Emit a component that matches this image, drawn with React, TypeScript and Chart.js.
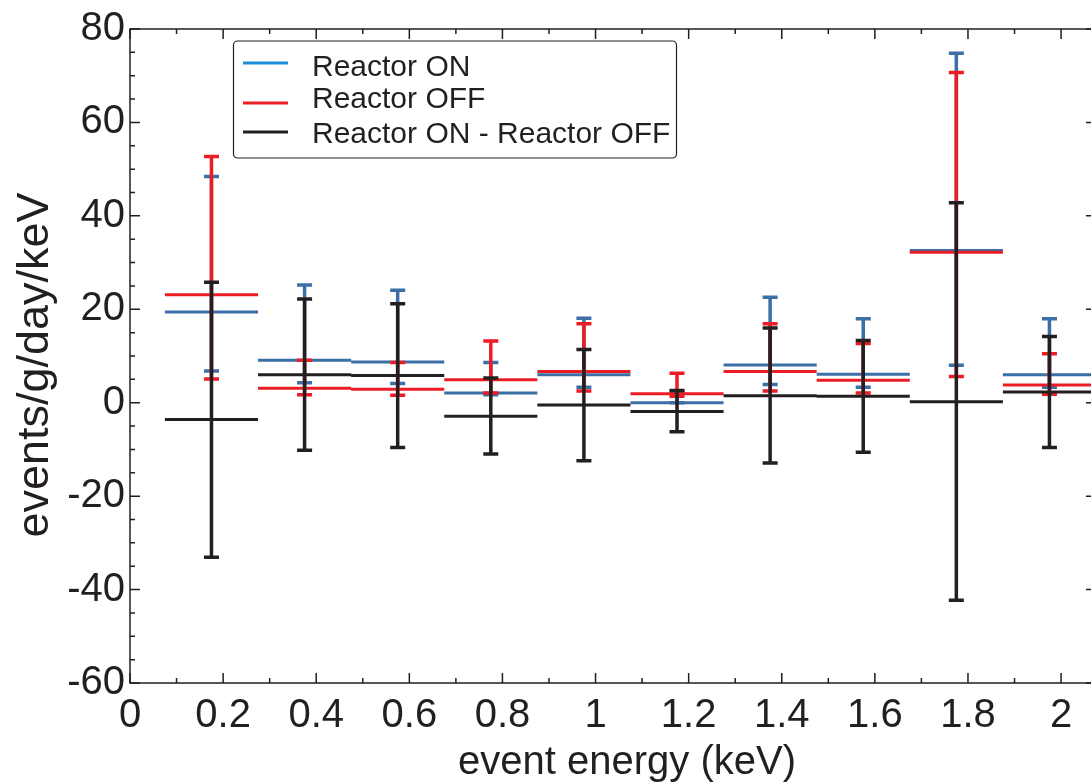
import React, { useEffect, useRef } from 'react';
import { Chart, registerables } from 'chart.js';

Chart.register(...registerables);

// ---- data ----
const binCenters = [0.175, 0.375, 0.575, 0.775, 0.975, 1.175, 1.375, 1.575, 1.775, 1.975];
const binHalfWidth = 0.1;

const seriesNames = ['Reactor ON', 'Reactor OFF', 'Reactor ON - Reactor OFF'];

const onValues = [19.4, 9.1, 8.7, 2.1, 6.0, 0.0, 8.1, 6.1, 32.6, 6.0];
const onErrLow = [6.8, 4.3, 4.1, 1.7, 3.3, 0.0, 3.9, 3.3, 8.0, 3.3];
const onErrHigh = [48.4, 25.2, 24.1, 8.6, 18.1, 2.4, 22.6, 18.0, 74.8, 18.0];

const offValues = [23.1, 3.1, 2.9, 4.9, 6.7, 1.9, 6.7, 4.8, 32.2, 3.8];
const offErrLow = [5.1, 1.7, 1.6, 2.1, 2.5, 1.4, 2.5, 2.1, 5.6, 1.8];
const offErrHigh = [52.7, 9.1, 8.6, 13.2, 16.9, 6.3, 16.9, 12.7, 70.7, 10.5];

const diffValues = [-3.6, 6.0, 5.8, -2.9, -0.5, -1.9, 1.5, 1.4, 0.2, 2.3];
const diffErrLow = [-33.1, -10.2, -9.6, -11.0, -12.4, -6.2, -12.9, -10.6, -42.3, -9.6];
const diffErrHigh = [25.8, 22.2, 21.2, 5.3, 11.4, 2.6, 16.0, 13.3, 42.8, 14.2];

const xTickLabels = ['0', '0.2', '0.4', '0.6', '0.8', '1', '1.2', '1.4', '1.6', '1.8', '2'];
const yTickLabels = ['-60', '-40', '-20', '0', '20', '40', '60', '80'];

const xTitle = 'event energy (keV)';
const yTitle = 'events/g/day/keV';

// ---- styles ----
const dataColors = ['#3b6fa6', '#ed1c24', '#231f20'];
const legendColors = ['#1b8fd9', '#ed1c24', '#231f20'];
const drawOrder = [2, 1, 0];
const FONT = '"Liberation Sans", Arial, Helvetica, sans-serif';
const AXIS_COLOR = '#231f20';

const errLows = [onErrLow, offErrLow, diffErrLow];
const errHighs = [onErrHigh, offErrHigh, diffErrHigh];

function stepPoints(values: number[]) {
  const pts: { x: number; y: number | null }[] = [];
  binCenters.forEach((c, i) => {
    pts.push({ x: c - binHalfWidth, y: values[i] });
    pts.push({ x: c + binHalfWidth, y: values[i] });
    pts.push({ x: c + binHalfWidth, y: null });
  });
  return pts;
}

const errorBarPlugin = {
  id: 'errorBars',
  afterDatasetDraw(chart: any, args: any) {
    const idx = args.index;
    const lo = errLows[idx];
    const hi = errHighs[idx];
    if (!lo) return;
    const { ctx } = chart;
    const xs = chart.scales.x;
    const ys = chart.scales.y;
    ctx.save();
    ctx.strokeStyle = dataColors[idx];
    ctx.lineWidth = 3.5;
    ctx.lineCap = 'butt';
    const capHalf = 7.5;
    binCenters.forEach((c, i) => {
      const x = xs.getPixelForValue(c);
      const yl = ys.getPixelForValue(lo[i]);
      const yh = ys.getPixelForValue(hi[i]);
      ctx.beginPath();
      ctx.moveTo(x, yl);
      ctx.lineTo(x, yh);
      ctx.stroke();
      ctx.lineWidth = 3.5;
      ctx.beginPath();
      ctx.moveTo(x - capHalf, yl);
      ctx.lineTo(x + capHalf, yl);
      ctx.moveTo(x - capHalf, yh);
      ctx.lineTo(x + capHalf, yh);
      ctx.stroke();
    });
    ctx.restore();
  },
};

const framePlugin = {
  id: 'frameTicks',
  beforeDatasetsDraw(chart: any) {
    const { ctx, chartArea } = chart;
    const { left, right, top, bottom } = chartArea;
    const xs = chart.scales.x;
    const ys = chart.scales.y;
    ctx.save();
    ctx.strokeStyle = AXIS_COLOR;
    ctx.lineWidth = 1.5;
    ctx.strokeRect(left, top, right - left, bottom - top);
    ctx.beginPath();
    for (let k = 0; k * 0.1 <= xs.max + 1e-9; k++) {
      const v = k * 0.1;
      const x = xs.getPixelForValue(v);
      const len = k % 2 === 0 ? 10 : 5;
      ctx.moveTo(x, bottom);
      ctx.lineTo(x, bottom - len);
      ctx.moveTo(x, top);
      ctx.lineTo(x, top + len);
    }
    for (let v = ys.min; v <= ys.max + 1e-9; v += 5) {
      const y = ys.getPixelForValue(v);
      const len = Math.round(v) % 20 === 0 ? 10 : 5;
      ctx.moveTo(left, y);
      ctx.lineTo(left + len, y);
      ctx.moveTo(right, y);
      ctx.lineTo(right - len, y);
    }
    ctx.stroke();
    ctx.restore();
  },
  afterDraw(chart: any) {
    const { ctx } = chart;
    ctx.save();
    ctx.fillStyle = AXIS_COLOR;
    ctx.font = `40px ${FONT}`;
    ctx.textAlign = 'center';
    ctx.textBaseline = 'alphabetic';
    ctx.fillText(xTitle, 627, 774);
    ctx.save();
    ctx.translate(48, 365);
    ctx.rotate(-Math.PI / 2);
    ctx.font = `45px ${FONT}`;
    ctx.fillText(yTitle, 0, 0);
    ctx.restore();

    // legend
    const bx = 233.5, by = 41, bw = 443, bh = 117, r = 4;
    ctx.fillStyle = '#ffffff';
    ctx.strokeStyle = AXIS_COLOR;
    ctx.lineWidth = 1.2;
    ctx.beginPath();
    ctx.moveTo(bx + r, by);
    ctx.lineTo(bx + bw - r, by);
    ctx.arcTo(bx + bw, by, bx + bw, by + r, r);
    ctx.lineTo(bx + bw, by + bh - r);
    ctx.arcTo(bx + bw, by + bh, bx + bw - r, by + bh, r);
    ctx.lineTo(bx + r, by + bh);
    ctx.arcTo(bx, by + bh, bx, by + bh - r, r);
    ctx.lineTo(bx, by + r);
    ctx.arcTo(bx, by, bx + r, by, r);
    ctx.closePath();
    ctx.fill();
    ctx.stroke();
    const lineYs = [63, 103, 132];
    const textYs = [76, 108, 143];
    ctx.font = `30px ${FONT}`;
    ctx.textAlign = 'left';
    seriesNames.forEach((name, i) => {
      ctx.strokeStyle = legendColors[i];
      ctx.lineWidth = 3;
      ctx.beginPath();
      ctx.moveTo(243, lineYs[i]);
      ctx.lineTo(288, lineYs[i]);
      ctx.stroke();
      ctx.fillStyle = AXIS_COLOR;
      ctx.fillText(name, 312, textYs[i]);
    });
    ctx.restore();
  },
};

export default function App() {
  const canvasRef = useRef<HTMLCanvasElement | null>(null);

  useEffect(() => {
    if (!canvasRef.current) return;
    const seriesValues = [onValues, offValues, diffValues];
    const chart = new Chart(canvasRef.current, {
      type: 'scatter',
      data: {
        datasets: seriesNames.map((name, i) => ({
          label: name,
          data: stepPoints(seriesValues[i]),
          order: drawOrder[i],
          showLine: true,
          spanGaps: false,
          borderColor: dataColors[i],
          backgroundColor: dataColors[i],
          borderWidth: 3,
          pointRadius: 0,
          pointHoverRadius: 0,
        })),
      },
      options: {
        animation: false,
        responsive: false,
        events: [],
        layout: { padding: { top: 28, right: 4, left: 0, bottom: 0 } },
        plugins: {
          legend: { display: false },
          tooltip: { enabled: false },
        },
        scales: {
          x: {
            type: 'linear',
            min: 0,
            max: 2.075,
            afterFit: (s: any) => {
              s.height = 100;
            },
            grid: { display: false, drawTicks: false },
            border: { display: false },
            ticks: {
              stepSize: 0.2,
              includeBounds: false,
              autoSkip: false,
              maxRotation: 0,
              padding: 9,
              color: AXIS_COLOR,
              font: { family: FONT, size: 40 },
              callback: (v: any) => {
                const idx = Math.round(Number(v) / 0.2);
                return xTickLabels[idx] ?? '';
              },
            },
          },
          y: {
            type: 'linear',
            min: -60,
            max: 80,
            afterFit: (s: any) => {
              s.width = 130;
            },
            grid: { display: false, drawTicks: false },
            border: { display: false },
            ticks: {
              stepSize: 20,
              includeBounds: false,
              autoSkip: false,
              padding: 5,
              color: AXIS_COLOR,
              font: { family: FONT, size: 40 },
              callback: (v: any) => {
                const idx = Math.round((Number(v) + 60) / 20);
                return yTickLabels[idx] ?? '';
              },
            },
          },
        },
      },
      plugins: [errorBarPlugin, framePlugin],
    } as any);
    return () => chart.destroy();
  }, []);

  return (
    <div
      style={{
        position: 'absolute',
        left: 0,
        top: 0,
        width: 1091,
        height: 783,
        overflow: 'hidden',
        background: '#ffffff',
      }}
    >
      <canvas ref={canvasRef} width={1100} height={783} style={{ display: 'block' }} />
    </div>
  );
}
